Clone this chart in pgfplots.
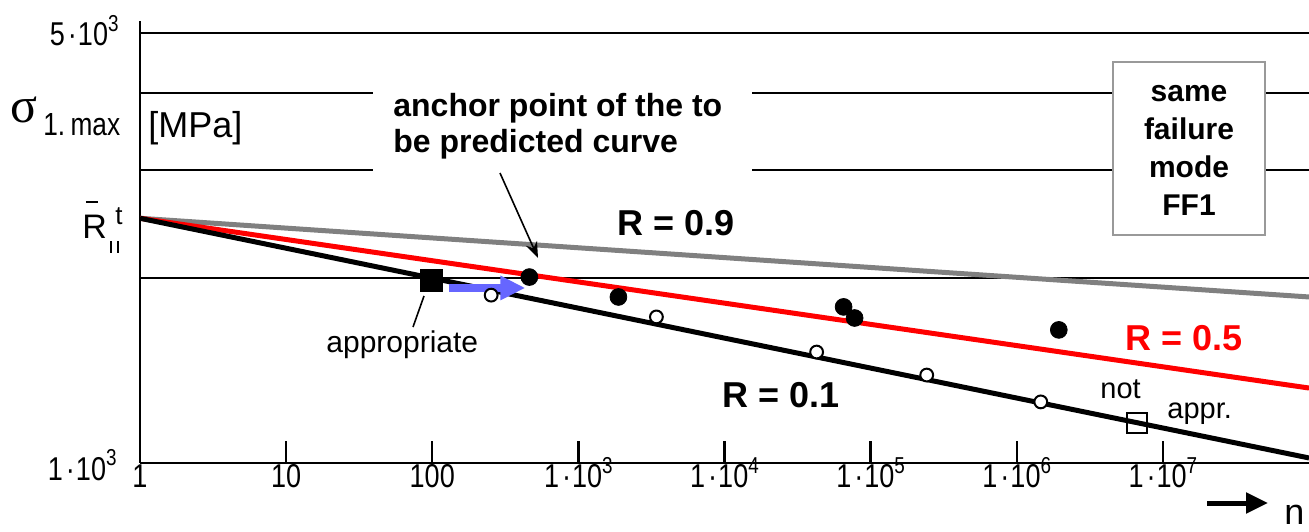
\documentclass[border=0pt]{standalone}
\usepackage{fontspec}
\setmainfont{Liberation Sans}
\newfontfamily\nfont{Liberation Sans}[FakeStretch=0.82]
\newfontfamily\serfont{Liberation Serif}
\usepackage{pgfplots}
\pgfplotsset{compat=1.18}
\usetikzlibrary{arrows.meta}
\definecolor{arrowblue}{RGB}{102,102,255}
\newcommand{\tl}[2]{#1\kern1.5pt·\kern0.5pt10\raisebox{0.45em}{\fontsize{11.5}{11.5}\selectfont #2}}
\begin{document}
\begin{tikzpicture}
\path[use as bounding box] (-70pt,-34pt) rectangle (584.5pt,231.5pt);
\begin{axis}[
  at={(0,0)}, anchor=south west, scale only axis,
  width=584.5pt, height=221pt,
  xmode=log, ymode=log,
  xmin=1, xmax=1e8, ymin=1000, ymax=5233,
  axis x line*=bottom, axis y line*=left,
  axis line style={line width=1.3pt, black},
  xminorticks=false, yminorticks=false,
  xtick={1,10,100,1000,1e4,1e5,1e6,1e7},
  xticklabels={1,10,100,\tl{1}{3},\tl{1}{4},\tl{1}{5},\tl{1}{6},\tl{1}{7}},
  xticklabel style={font=\nfont\fontsize{16.5}{16.5}\selectfont, anchor=base, yshift=-12.5pt, inner sep=0pt},
  tick align=inside, major tick length=11pt,
  xtick style={line width=1.2pt, black},
  ytick={2000,3000,4000,5000}, yticklabels={},
  ytick style={draw=none},
  ymajorgrids, major grid style={black, line width=1pt},
]
\addplot[gray, line width=2.5pt] coordinates {(1,2500) (1e8,1862)};
\addplot[red, line width=2.5pt] coordinates {(1,2500) (1e8,1324)};
\addplot[black, line width=2.5pt] coordinates {(1,2500) (1e8,1019)};
\addplot[only marks, mark=*, mark size=4.2pt, black] coordinates {(462,2006) (1880,1862) (65300,1794) (77700,1721) (1.94e6,1646)};
\addplot[only marks, mark=*, mark size=3.2pt, mark options={fill=white, draw=black, line width=1pt}] coordinates {(253,1875) (3420,1728) (42700,1515) (2.42e5,1390) (1.46e6,1257)};
\addplot[only marks, mark=square*, mark size=5.5pt, black] coordinates {(98.4,1985)};
\addplot[only marks, mark=square, mark size=5pt, mark options={line width=1pt, black}] coordinates {(6.64e6,1161)};
\draw[arrowblue, line width=4pt, -{Triangle[length=12.5pt,width=11.5pt]}] (axis cs:131,1926) -- (axis cs:433,1926);
\end{axis}
\begin{scope}[x=0.5pt,y=-0.5pt,shift={(-70pt,231.5pt)}]
% white boxes over grid lines
\fill[white] (373,86) rectangle (752,178);
\draw[fill=white, draw=gray!80, line width=1pt] (1113,62) rectangle (1265,235);
% anchor text
\node[anchor=base west, inner sep=0, font=\bfseries\fontsize{16}{16}\selectfont] at (393,117) {anchor point of the to};
\node[anchor=base west, inner sep=0, font=\bfseries\fontsize{16}{16}\selectfont] at (393,152) {be predicted curve};
\draw[line width=0.8pt, -{Stealth[length=8pt,width=6pt]}] (500,173) -- (538,258);
% FF1 box text
\node[align=center, inner sep=0, font=\bfseries\fontsize{15}{19}\selectfont] at (1189,150) {same\\failure\\mode\\FF1};
% R labels
\node[anchor=base west, inner sep=0, font=\bfseries\fontsize{18}{18}\selectfont] at (617,235) {R = 0.9};
\node[anchor=base west, inner sep=0, font=\bfseries\fontsize{18}{18}\selectfont, red] at (1125,350) {R = 0.5};
\node[anchor=base west, inner sep=0, font=\bfseries\fontsize{18}{18}\selectfont] at (722,407) {R = 0.1};
% small labels
\node[anchor=base west, inner sep=0, font=\fontsize{15}{15}\selectfont] at (326,352) {appropriate};
\draw[line width=0.8pt] (424,296) -- (413,327);
\node[anchor=base west, inner sep=0, font=\fontsize{14.5}{14.5}\selectfont] at (1100,398) {not};
\node[anchor=base west, inner sep=0, font=\fontsize{14.5}{14.5}\selectfont] at (1167,418) {appr.};
% y axis labels
\node[anchor=base east, inner sep=0, font=\nfont\fontsize{16.5}{16.5}\selectfont] at (119,46) {\tl{5}{3}};
\node[anchor=base east, inner sep=0, font=\nfont\fontsize{16.5}{16.5}\selectfont] at (117,480) {\tl{1}{3}};
\node[anchor=base west, inner sep=0, font=\serfont\fontsize{25}{25}\selectfont] at (10,122) {σ};
\node[anchor=base west, inner sep=0, font=\nfont\fontsize{16}{16}\selectfont] at (43,135) {1.\,max};
\node[anchor=base west, inner sep=0, font=\fontsize{18}{18}\selectfont] at (148,137) {[MPa]};
\node[anchor=base west, inner sep=0, font=\fontsize{17}{17}\selectfont] at (82,238) {R};
\draw[line width=1.3pt] (86,202) -- (98,202);
\node[anchor=base west, inner sep=0, font=\fontsize{13}{13}\selectfont] at (115,224) {t};
\draw[line width=0.9pt] (111,241) -- (111,253) (118,241) -- (118,253);
% x axis arrow and n
\draw[line width=2.5pt, -{Triangle[length=11pt,width=10pt]}] (1207,503) -- (1268,503);
\node[anchor=base west, inner sep=0, font=\fontsize{18}{18}\selectfont] at (1284,524) {n};
\end{scope}
\end{tikzpicture}
\end{document}
